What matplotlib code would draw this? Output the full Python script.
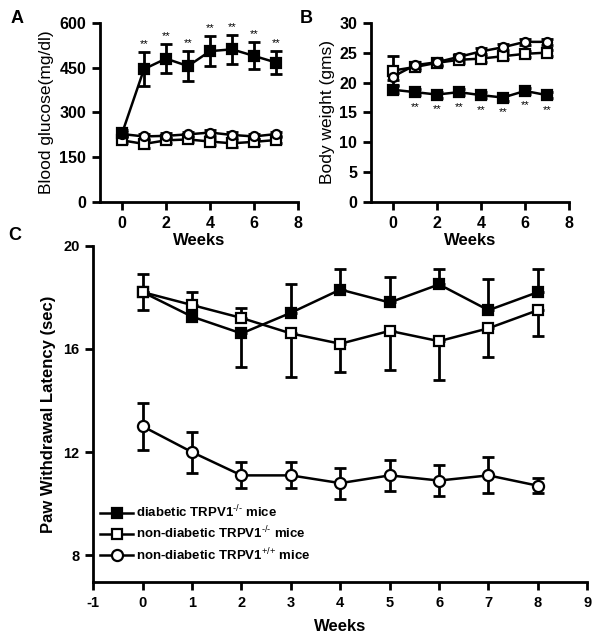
import numpy as np
import matplotlib
matplotlib.use('Agg')
from matplotlib import pyplot as plt

plt.rcParams['font.family'] = ['Liberation Sans', 'DejaVu Sans']
plt.rcParams['axes.unicode_minus'] = False
plt.rcParams['mathtext.fontset'] = 'custom'
plt.rcParams['mathtext.rm'] = 'Liberation Sans'
plt.rcParams['mathtext.it'] = 'Liberation Sans'
plt.rcParams['mathtext.bf'] = 'Liberation Sans:bold'

# panel A - blood glucose
weeks_ab = [0, 1, 2, 3, 4, 5, 6, 7]
glu_diab = [230, 445, 480, 455, 505, 511, 489, 467]
glu_diab_err = [10, 57, 49, 51, 50, 49, 45, 38]
glu_ko = [207, 195, 207, 210, 203, 197, 202, 208]
glu_ko_err = [10, 14, 8, 10, 10, 12, 10, 10]
glu_wt = [228, 220, 222, 227, 233, 225, 220, 228]
glu_wt_err = [8, 8, 8, 8, 10, 10, 8, 8]

# panel B - body weight
bw_diab = [18.8, 18.4, 18.0, 18.4, 17.9, 17.5, 18.6, 17.9]
bw_diab_err = [0.6, 0.5, 0.5, 0.5, 0.5, 0.5, 0.5, 0.5]
bw_ko = [22.0, 22.6, 23.3, 23.8, 24.0, 24.4, 24.8, 25.0]
bw_ko_err = [2.4, 0.5, 0.5, 0.5, 0.5, 0.5, 0.5, 0.5]
bw_wt = [21.0, 22.9, 23.4, 24.3, 25.2, 25.9, 26.8, 26.8]
bw_wt_err = [0.6, 0.5, 0.5, 0.5, 0.5, 0.5, 0.5, 0.5]

# panel C - paw withdrawal latency
weeks_c = [0, 1, 2, 3, 4, 5, 6, 7, 8]
lat_diab = [18.2, 17.25, 16.6, 17.4, 18.3, 17.8, 18.5, 17.5, 18.2]
lat_diab_lo = [0, 0, 1.3, 0, 0, 0, 0, 0, 0]
lat_diab_hi = [0.7, 0, 0, 1.1, 0.8, 1.0, 0.6, 1.2, 0.9]
lat_ko = [18.2, 17.7, 17.2, 16.6, 16.2, 16.7, 16.3, 16.8, 17.5]
lat_ko_lo = [0.7, 0, 0, 1.7, 1.1, 1.5, 1.5, 1.1, 1.0]
lat_ko_hi = [0, 0.5, 0.4, 0, 0, 0, 0, 0, 0]
lat_wt = [13.0, 12.0, 11.1, 11.1, 10.8, 11.1, 10.9, 11.1, 10.7]
lat_wt_err = [0.9, 0.8, 0.5, 0.5, 0.6, 0.6, 0.6, 0.7, 0.3]

labels = [r'diabetic TRPV1$^{\text{-/-}}$ mice',
          r'non-diabetic TRPV1$^{\text{-/-}}$ mice',
          r'non-diabetic TRPV1$^{\text{+/+}}$ mice']

fig = plt.figure(figsize=(6, 6.43), dpi=100)
axA = fig.add_axes([0.1667, 0.6854, 0.33, 0.2793])
axB = fig.add_axes([0.6183, 0.6854, 0.33, 0.2793])
axC = fig.add_axes([0.1555, 0.0941, 0.8233, 0.5238])


def style(ax, size):
    for s in ['top', 'right']:
        ax.spines[s].set_visible(False)
    for s in ['left', 'bottom']:
        ax.spines[s].set_linewidth(2)
    ax.tick_params(width=2, length=6, pad=4, labelsize=size)
    for t in ax.get_xticklabels() + ax.get_yticklabels():
        t.set_fontweight('bold')


def series(ax, x, y, lo, hi, marker, face, ms, label=None):
    x = np.array(x)
    y = np.array(y)
    lo = np.array(lo, dtype=float)
    hi = np.array(hi, dtype=float)
    keep = (lo > 0) | (hi > 0)
    ax.errorbar(x[keep], y[keep], yerr=[lo[keep], hi[keep]], fmt='none',
                ecolor='black', elinewidth=2, capsize=4, capthick=2, zorder=2)
    ax.plot(x, y, color='black', lw=1.8, marker=marker, ms=ms,
            mfc=face, mec='black', mew=1.6, zorder=3, label=label)


# A
series(axA, weeks_ab, glu_ko, glu_ko_err, glu_ko_err, 's', 'white', 6.5)
series(axA, weeks_ab, glu_wt, glu_wt_err, glu_wt_err, 'o', 'white', 6.5)
series(axA, weeks_ab, glu_diab, glu_diab_err, glu_diab_err, 's', 'black', 7)
for i in range(1, 8):
    axA.text(weeks_ab[i], glu_diab[i] + glu_diab_err[i] + 10, '**',
             ha='center', va='bottom', fontsize=8)
axA.set_xlim(-1, 8)
axA.set_ylim(0, 600)
axA.set_xticks([0, 2, 4, 6, 8])
axA.set_yticks([0, 150, 300, 450, 600])
axA.set_xlabel('Weeks', fontsize=12, fontweight='bold', labelpad=1)
axA.set_ylabel('Blood glucose(mg/dl)', fontsize=12.5, labelpad=4)
style(axA, 11.5)

# B
series(axB, weeks_ab, bw_ko, bw_ko_err, bw_ko_err, 's', 'white', 6.5)
series(axB, weeks_ab, bw_wt, bw_wt_err, bw_wt_err, 'o', 'white', 6.5)
series(axB, weeks_ab, bw_diab, bw_diab_err, bw_diab_err, 's', 'black', 7)
for i in range(1, 8):
    axB.text(weeks_ab[i], bw_diab[i] - 1.6, '**', ha='center', va='top',
             fontsize=8)
axB.set_xlim(-1, 8)
axB.set_ylim(0, 30)
axB.set_xticks([0, 2, 4, 6, 8])
axB.set_yticks([0, 5, 10, 15, 20, 25, 30])
axB.set_xlabel('Weeks', fontsize=12, fontweight='bold', labelpad=1)
axB.set_ylabel('Body weight (gms)', fontsize=12.5, labelpad=3)
style(axB, 11.5)

# C
series(axC, weeks_c, lat_diab, lat_diab_lo, lat_diab_hi, 's', 'black', 7, labels[0])
series(axC, weeks_c, lat_ko, lat_ko_lo, lat_ko_hi, 's', 'white', 7, labels[1])
series(axC, weeks_c, lat_wt, lat_wt_err, lat_wt_err, 'o', 'white', 8, labels[2])
axC.set_xlim(-1, 9)
axC.set_ylim(6.95, 20)
axC.set_xticks(range(-1, 10))
axC.set_yticks([8, 12, 16, 20])
axC.set_xlabel('Weeks', fontsize=12, fontweight='bold', labelpad=6)
axC.set_ylabel('Paw Withdrawal Latency (sec)', fontsize=12, fontweight='bold',
               labelpad=5)
style(axC, 10.5)
leg = axC.legend(loc='lower left', bbox_to_anchor=(0.0136, 0.058), frameon=False,
                 handlelength=2.5, handletextpad=0.25, labelspacing=0.35,
                 borderaxespad=0, borderpad=0,
                 prop={'weight': 'bold', 'size': 9.5})

fig.text(0.017, 0.972, 'A', fontsize=13, fontweight='bold', va='center')
fig.text(0.5, 0.972, 'B', fontsize=13, fontweight='bold', va='center')
fig.text(0.013, 0.634, 'C', fontsize=13, fontweight='bold', va='center')

fig.savefig('out.png', dpi=100)
